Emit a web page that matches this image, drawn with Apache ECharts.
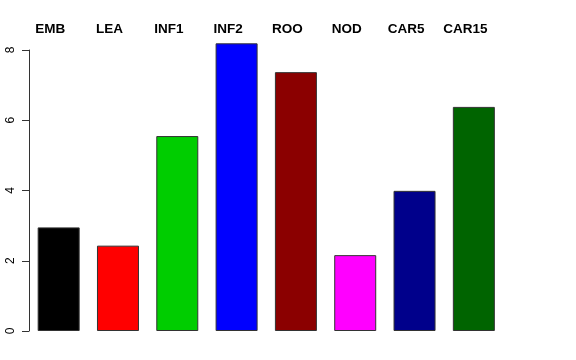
<!DOCTYPE html>
<html><head><meta charset="utf-8">
<script src="https://cdn.jsdelivr.net/npm/echarts@6/dist/echarts.min.js"></script>
<style>html,body{margin:0;padding:0;background:#fff}#c{width:576px;height:360px}</style>
</head><body><div id="c"></div>
<script>
const categories = ["EMB","LEA","INF1","INF2","ROO","NOD","CAR5","CAR15"];
const values = [2.95, 2.43, 5.55, 8.19, 7.37, 2.16, 3.99, 6.38];
const barColors = ["#000000","#FF0000","#00CD00","#0000FF","#8B0000","#FF00FF","#00008B","#006400"];
const yTicks = [0, 2, 4, 6, 8];

const chart = echarts.init(document.getElementById('c'), null, {renderer:'canvas'});
chart.setOption({
  animation: false,
  backgroundColor: '#fff',
  grid: {left: 29, top: 50, width: 474.5, bottom: 29},
  xAxis: {
    type: 'category', position: 'top', data: categories,
    axisLine: {show: false}, axisTick: {show: false},
    axisLabel: {fontFamily: 'Liberation Sans', fontWeight: 'bold', fontSize: 13.5, color: '#000',
      margin: 14, padding: [0, 17, 0, 0]}
  },
  yAxis: {
    type: 'value', min: yTicks[0], max: yTicks[yTicks.length-1], interval: 2,
    axisLine: {show: true, lineStyle: {color: '#333', width: 1}},
    axisTick: {show: true, length: 7, lineStyle: {color: '#333'}},
    splitLine: {show: false},
    axisLabel: {rotate: 90, fontFamily: 'Liberation Sans', fontSize: 12, color: '#000', margin: 12,
      formatter: v => yTicks.includes(v) ? String(v) : ''}
  },
  series: [{
    type: 'bar', clip: false, barWidth: 42,
    data: values.map((v, i) => ({value: v, itemStyle: {color: barColors[i]}})),
    itemStyle: {borderColor: '#333', borderWidth: 1}
  }]
});
</script></body></html>
